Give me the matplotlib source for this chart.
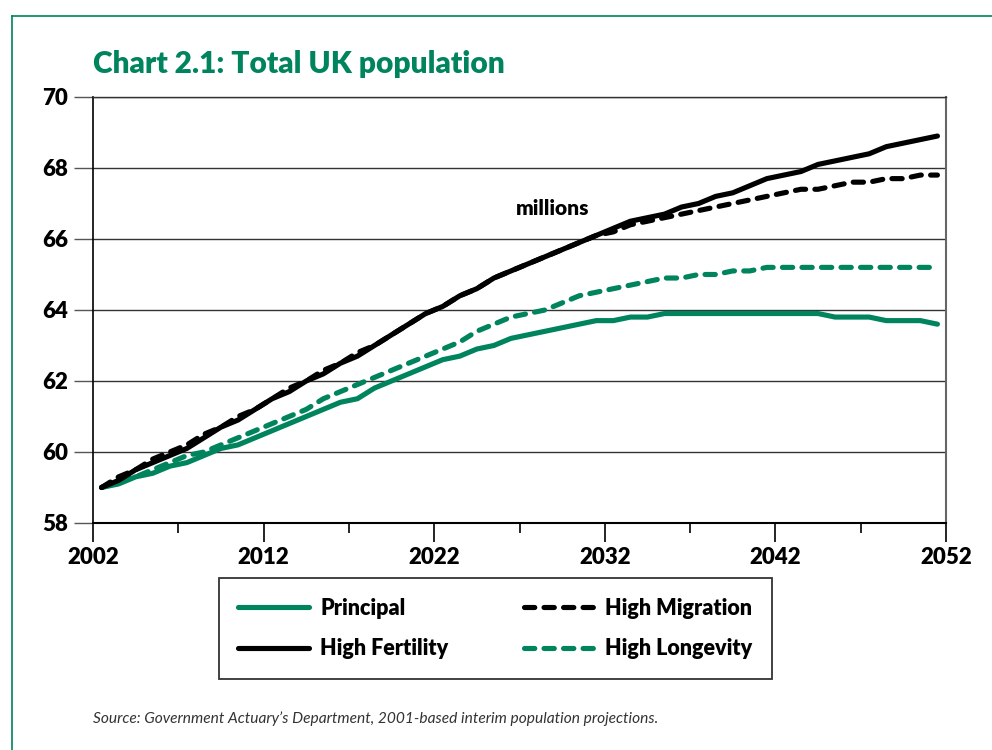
import numpy as np
import matplotlib.pyplot as plt
from matplotlib.lines import Line2D

years = np.arange(2002, 2052)

principal = [59.0, 59.1, 59.3, 59.4, 59.6, 59.7, 59.9, 60.1, 60.2, 60.4,
             60.6, 60.8, 61.0, 61.2, 61.4, 61.5, 61.8, 62.0, 62.2, 62.4,
             62.6, 62.7, 62.9, 63.0, 63.2, 63.3, 63.4, 63.5, 63.6, 63.7,
             63.7, 63.8, 63.8, 63.9, 63.9, 63.9, 63.9, 63.9, 63.9, 63.9,
             63.9, 63.9, 63.9, 63.8, 63.8, 63.8, 63.7, 63.7, 63.7, 63.6]

high_fertility = [59.0, 59.2, 59.5, 59.7, 59.9, 60.1, 60.4, 60.7, 60.9, 61.2,
                  61.5, 61.7, 62.0, 62.2, 62.5, 62.7, 63.0, 63.3, 63.6, 63.9,
                  64.1, 64.4, 64.6, 64.9, 65.1, 65.3, 65.5, 65.7, 65.9, 66.1,
                  66.3, 66.5, 66.6, 66.7, 66.9, 67.0, 67.2, 67.3, 67.5, 67.7,
                  67.8, 67.9, 68.1, 68.2, 68.3, 68.4, 68.6, 68.7, 68.8, 68.9]

high_migration = [59.0, 59.3, 59.5, 59.8, 60.0, 60.2, 60.5, 60.7, 61.0, 61.2,
                  61.5, 61.8, 62.0, 62.3, 62.5, 62.8, 63.0, 63.3, 63.6, 63.9,
                  64.1, 64.4, 64.6, 64.9, 65.1, 65.3, 65.5, 65.7, 65.9, 66.1,
                  66.2, 66.4, 66.5, 66.6, 66.7, 66.8, 66.9, 67.0, 67.1, 67.2,
                  67.3, 67.4, 67.4, 67.5, 67.6, 67.6, 67.7, 67.7, 67.8, 67.8]

high_longevity = [59.0, 59.2, 59.3, 59.5, 59.7, 59.9, 60.0, 60.2, 60.4, 60.6,
                  60.8, 61.0, 61.2, 61.5, 61.7, 61.9, 62.1, 62.3, 62.5, 62.7,
                  62.9, 63.1, 63.4, 63.6, 63.8, 63.9, 64.0, 64.2, 64.4, 64.5,
                  64.6, 64.7, 64.8, 64.9, 64.9, 65.0, 65.0, 65.1, 65.1, 65.2,
                  65.2, 65.2, 65.2, 65.2, 65.2, 65.2, 65.2, 65.2, 65.2, 65.2]

green = '#00845e'
plt.rcParams['font.family'] = ['Lato', 'DejaVu Sans']
plt.rcParams['font.weight'] = 'heavy'

fig = plt.figure(figsize=(9.92, 7.5), dpi=100)
ax = fig.add_axes([0.0938, 0.3027, 0.8598, 0.568])

# each year sits in the middle of its category slot
x = years + 0.5
lw = 3.7
dash = (0, (2.0, 1.8))
common = dict(lw=lw, solid_joinstyle='round', solid_capstyle='round',
              dash_joinstyle='round', dash_capstyle='round')
ax.plot(x, principal, color=green, label='Principal', **common)
ax.plot(x, high_longevity, color=green, ls=dash, label='High Longevity', **common)
ax.plot(x, high_fertility, color='black', label='High Fertility', **common)
ax.plot(x, high_migration, color='black', ls=dash, label='High Migration', **common)

ax.set_xlim(2002, 2052)
ax.set_ylim(58, 70)
ax.set_xticks(np.arange(2002, 2053, 10))
ax.set_xticks(np.arange(2007, 2052, 10), minor=True)
ax.set_yticks(np.arange(58, 71, 2))
ax.yaxis.grid(True, color='#333333', lw=1)
ax.set_axisbelow(True)

ax.tick_params(axis='y', direction='out', length=14, width=1, color='#555555',
               pad=4, labelsize=16)
ax.tick_params(axis='x', which='major', direction='out', length=14, width=1.2,
               color='black', pad=3, labelsize=16)
ax.tick_params(axis='x', which='minor', direction='out', length=7, width=1.2,
               color='black')

ax.spines['top'].set_color('#333333')
ax.spines['top'].set_linewidth(1)
ax.spines['left'].set_linewidth(1.2)
ax.spines['bottom'].set_linewidth(1.5)
ax.spines['right'].set_color('#666666')
ax.spines['right'].set_linewidth(1.5)

ax.text(2026.8, 66.85, 'millions', fontsize=15, ha='left', va='center')

handles, labels = ax.get_legend_handles_labels()
order = [0, 2, 3, 1]
leg = fig.legend([handles[i] for i in order], [labels[i] for i in order],
                 loc='center', bbox_to_anchor=(0.4995, 0.162), ncol=2,
                 prop={'weight': 'heavy', 'size': 15.5}, frameon=True, fancybox=False,
                 edgecolor='black', handlelength=3.3, handletextpad=0.5,
                 columnspacing=3.5, borderpad=0.9, labelspacing=0.9)
leg.get_frame().set_linewidth(1.3)

fig.text(0.0938, 0.903, 'Chart 2.1: Total UK population', color=green,
         fontsize=21.5, ha='left', va='baseline')
fig.text(0.0938, 0.042, "Source: Government Actuary\u2019s Department, 2001-based interim population projections.",
         fontsize=11.2, fontstyle='italic', fontweight='normal', color='#333333',
         ha='left', va='center')

# page border in the house green
fig.add_artist(Line2D([0.0126, 0.0126], [0.0, 0.979], color=green, lw=1.2))
fig.add_artist(Line2D([0.0126, 1.0], [0.979, 0.979], color=green, lw=1.2))

fig.savefig('out.png', dpi=100)
